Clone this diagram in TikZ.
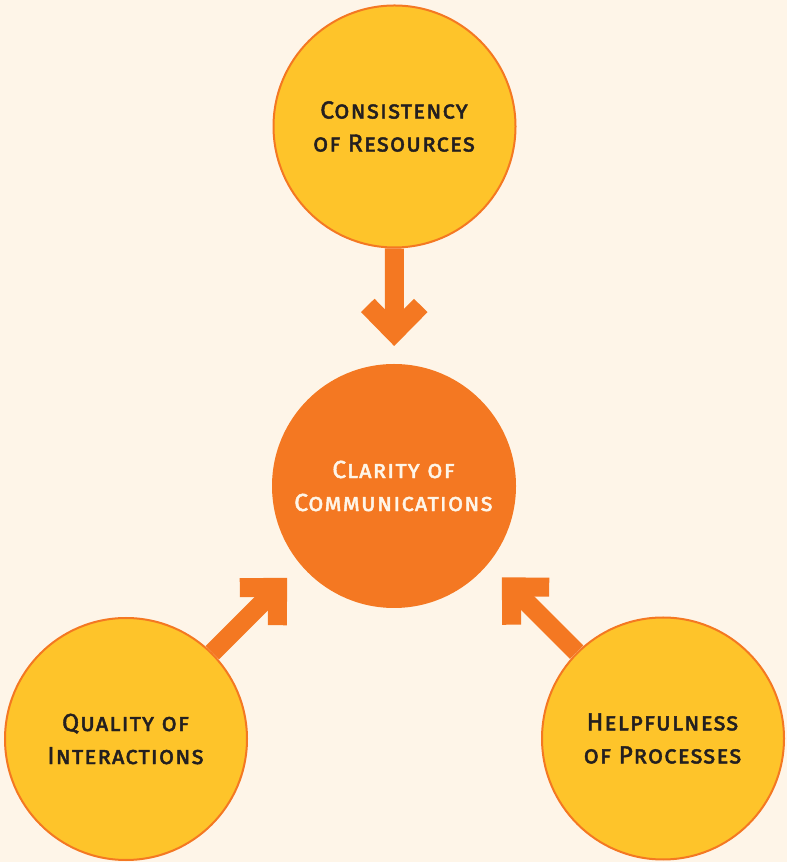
\documentclass[tikz,border=0pt]{standalone}
\usepackage{fontspec}
\setmainfont{Fira Sans}[LetterSpace=4,FakeBold=1.8]
\usetikzlibrary{arrows.meta}
\definecolor{cream}{HTML}{FEF5E8}
\definecolor{sunyellow}{HTML}{FEC42A}
\definecolor{deeporange}{HTML}{F47822}
\definecolor{darktext}{HTML}{231F20}
\begin{document}
\begin{tikzpicture}[x=1pt,y=1pt,
  bubble/.style={circle,draw=deeporange,line width=2pt,fill=sunyellow,minimum size=242pt,inner sep=0pt,
    align=center,text=darktext,font=\fontsize{24.7}{33}\selectfont},
  bigarrow/.style={draw=deeporange,line width=19pt,-{Straight Barb[length=27pt,width=53pt,sharp]}}]
        \useasboundingbox (0,0) rectangle (787,862);
        \fill[cream] (0,0) rectangle (787,862); % page background
        \node[bubble] (cr) at (394.5,735.5) {\textsc{Consistency}\\\textsc{of Resources}};
        \node[bubble,fill=deeporange,text=cream] (cc) at (394,376) {\textsc{Clarity of}\\\textsc{Communications}};
        \node[bubble] (qi) at (126,123) {\textsc{Quality of}\\\textsc{Interactions}};
        \node[bubble] (hp) at (663,123.5) {\textsc{Helpfulness}\\\textsc{of Processes}};
        \path (qi.center) ++(45:228) coordinate (qitip); % tip near centre circle
        \path (hp.center) ++(135:228) coordinate (hptip);
        \draw[bigarrow,shorten >=18pt] (cr) -- (cc); % down arrow
        \draw[bigarrow] (qi) -- (qitip);
        \draw[bigarrow] (hp) -- (hptip);
\end{tikzpicture}
\end{document}
